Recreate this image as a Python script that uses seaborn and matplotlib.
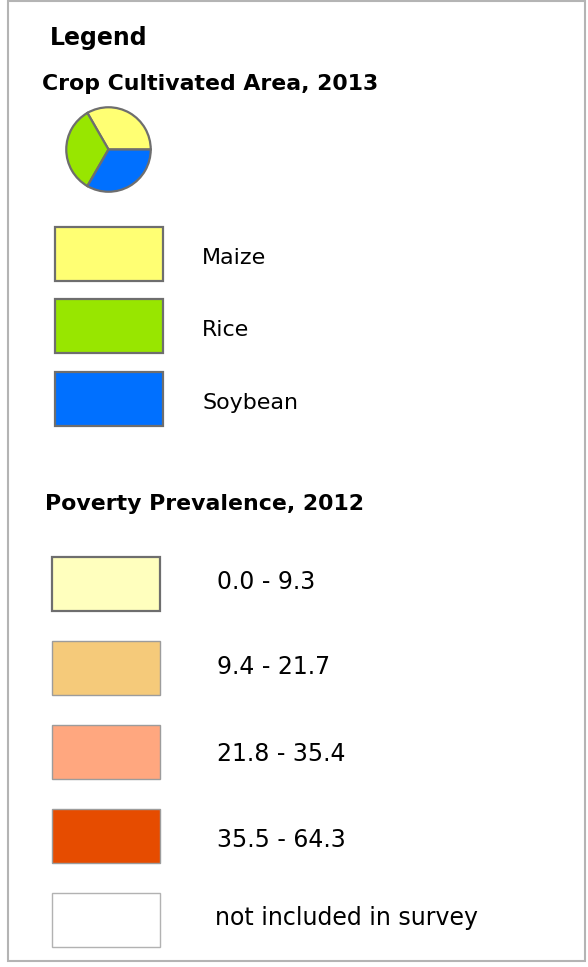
import matplotlib
matplotlib.use("Agg")
import matplotlib.pyplot as plt
from matplotlib.patches import Rectangle
import seaborn as sns

W, H = 588, 967

# DATA
crops = ["Maize", "Rice", "Soybean"]
crop_share = [1, 1, 1]
crop_colors = ["#FFFF73", "#98E600", "#0070FF"]

poverty_classes = ["0.0 - 9.3", "9.4 - 21.7", "21.8 - 35.4", "35.5 - 64.3",
                   "not included in survey"]
poverty_colors = ["#FFFFBE", "#F5CA7A", "#FFA77F", "#E64C00", "#FFFFFF"]

# LAYOUT (pixels, y grows downward)
CROP_BOX_X, CROP_ROW0, CROP_PITCH = 55, 254, 72.3
POV_BOX_X, POV_ROW0, POV_PITCH = 52, 583.5, 84
BOX_W, BOX_H = 108, 54
pov_text_base = [589, 674, 761, 847, 925]

sns.set_theme(style="white")
plt.rcParams["font.family"] = ["DejaVu Sans"]

fig = plt.figure(figsize=(W / 100, H / 100), dpi=100)
ax = fig.add_axes([0, 0, 1, 1])
ax.set_xlim(0, W)
ax.set_ylim(H, 0)
ax.axis("off")
renderer = fig.canvas.get_renderer()


def fit_size(text, target_w, weight="normal"):
    t = ax.text(0, 0, text, fontsize=20, fontweight=weight)
    w = t.get_window_extent(renderer).width
    t.remove()
    return 20 * target_w / w


# рамка легенды
ax.add_patch(Rectangle((8, 1), 577, 960, fill=False, edgecolor="#B4B4B4", lw=1.5))

# заголовки
ax.text(50, 45, "Legend", fontsize=fit_size("Legend", 98, "bold"),
        fontweight="bold", va="baseline", color="black")
title_fs = (fit_size("Crop Cultivated Area, 2013", 336, "bold")
            + fit_size("Poverty Prevalence, 2012", 320, "bold")) / 2
ax.text(42, 90, "Crop Cultivated Area, 2013", fontsize=title_fs,
        fontweight="bold", va="baseline", color="black")
ax.text(45, 510, "Poverty Prevalence, 2012", fontsize=title_fs,
        fontweight="bold", va="baseline", color="black")

# crop swatches
crop_y = [CROP_ROW0 + i * CROP_PITCH for i in range(len(crops))]
ax.barh(crop_y, BOX_W, left=CROP_BOX_X, height=BOX_H, color=crop_colors,
        edgecolor="#6E6E6E", linewidth=1.6)
crop_fs = fit_size("Soybean", 96)
for y, name in zip(crop_y, crops):
    ax.text(202, y + 10, name, fontsize=crop_fs, va="baseline", color="black")

# poverty swatches
pov_y = [POV_ROW0 + i * POV_PITCH for i in range(len(poverty_classes))]
bars = ax.barh(pov_y, BOX_W, left=POV_BOX_X, height=BOX_H, color=poverty_colors,
               edgecolor="#9C9C9C", linewidth=1.0)
bars[0].set_edgecolor("#6E6E6E")
bars[0].set_linewidth(1.6)
bars[-1].set_edgecolor("#B2B2B2")
pov_fs = fit_size("not included in survey", 263)
for i, (yb, label) in enumerate(zip(pov_text_base, poverty_classes)):
    x0 = 215 if i == len(poverty_classes) - 1 else 217
    ax.text(x0, yb, label, fontsize=pov_fs, va="baseline", color="black")

# pie symbol
pax = fig.add_axes([65 / W, 1 - 193 / H, 87 / W, 87 / H])
pax.pie(crop_share, colors=crop_colors, startangle=0, counterclock=True,
        wedgeprops=dict(edgecolor="#6E6E6E", linewidth=1.6))
pax.set_xlim(-1.03, 1.03)
pax.set_ylim(-1.03, 1.03)
pax.set_aspect("equal")
pax.axis("off")

fig.savefig("out.png", dpi=100)
plt.close(fig)
